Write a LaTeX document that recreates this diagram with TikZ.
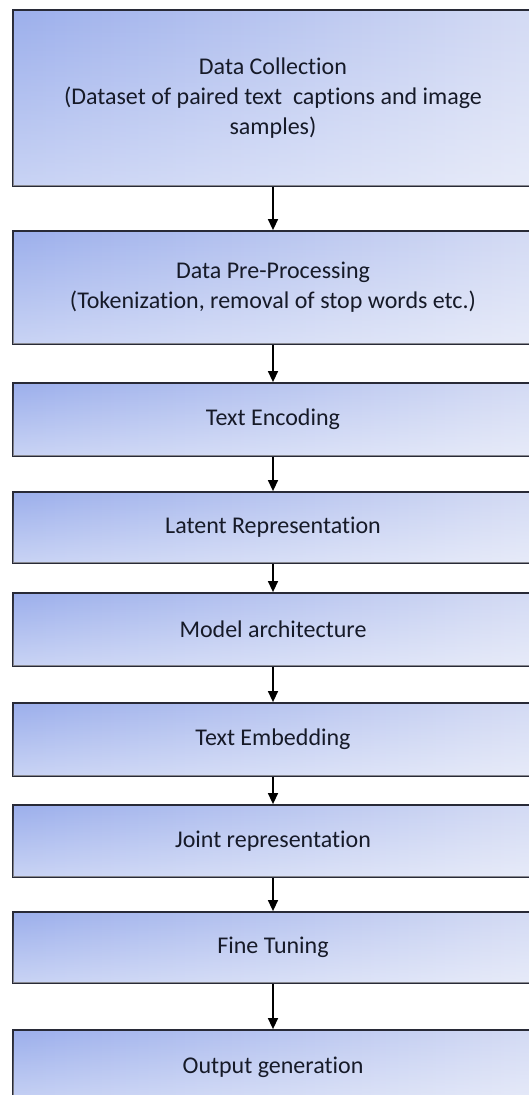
\documentclass[tikz,border=0pt]{standalone}
\usepackage{fontspec}
\setmainfont[Ligatures={NoCommon}]{Carlito}
\usetikzlibrary{arrows.meta,fadings}
\definecolor{ul}{RGB}{156,175,236}
\definecolor{ur}{RGB}{212,219,244}
\definecolor{edge}{RGB}{40,42,55}
\definecolor{txt}{RGB}{22,26,40}
\tikzset{
  stepbox/.style={draw=edge, line width=1.8pt, rectangle, minimum width=520pt,
    left color=ul, right color=ur,
    postaction={fill=white, path fading=north, fill opacity=0.45},
    text=txt, align=center, inner sep=0pt,
    font=\fontsize{24pt}{30pt}\selectfont},
  flow/.style={draw=black, line width=1.4pt, -{Triangle[width=10pt,length=11pt]}}
}
\begin{document}
\begin{tikzpicture}[x=1pt,y=-1pt]
\useasboundingbox (0,0) rectangle (529,1095);
\fill[white] (0,0) rectangle (529,1095);
\node[stepbox, minimum height=176pt] (b1) at (273,98) {Data Collection\\(Dataset of paired text\ \ captions and image\\samples)};
\node[stepbox, minimum height=113pt] (b2) at (273,287.5) {Data Pre-Processing\\(Tokenization, removal of stop words etc.)};
\node[stepbox, minimum height=73pt] (b3) at (273,419.5) {Text Encoding};
\node[stepbox, minimum height=71pt] (b4) at (273,527.5) {Latent Representation};
\node[stepbox, minimum height=73pt] (b5) at (273,629.5) {Model architecture};
\node[stepbox, minimum height=73pt] (b6) at (273,739.5) {Text Embedding};
\node[stepbox, minimum height=72pt] (b7) at (273,841) {Joint representation};
\node[stepbox, minimum height=71pt] (b8) at (273,947.5) {Fine Tuning};
\node[stepbox, minimum height=74pt] (b9) at (273,1067) {Output generation};
\foreach \a/\b in {b1/b2,b2/b3,b3/b4,b4/b5,b5/b6,b6/b7,b7/b8,b8/b9}
  \draw[flow] (\a.south) -- (\b.north);
\end{tikzpicture}
\end{document}
